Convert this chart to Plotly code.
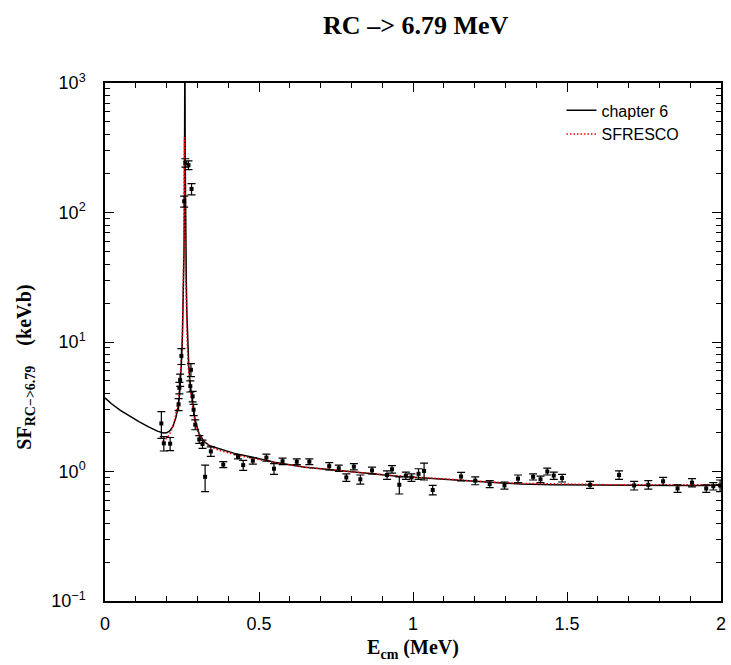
import plotly.graph_objects as go

# ---- data: experimental points ----
exp_E = [0.183, 0.191, 0.2115, 0.239, 0.2415, 0.244, 0.248, 0.257, 0.261, 0.271,
         0.277, 0.279, 0.281, 0.2845, 0.2877, 0.293, 0.306, 0.3166, 0.325, 0.3436,
         0.384, 0.432, 0.4487, 0.48, 0.524, 0.5486, 0.5765, 0.6226, 0.6634, 0.728,
         0.759, 0.7835, 0.808, 0.829, 0.867, 0.9157, 0.9318, 0.9555, 0.977, 0.995,
         1.018, 1.036, 1.064, 1.156, 1.202, 1.249, 1.297, 1.341, 1.39, 1.414,
         1.436, 1.457, 1.484, 1.575, 1.669, 1.718, 1.764, 1.812, 1.859, 1.906,
         1.952, 1.975, 1.997]
exp_S = [2.35, 1.65, 1.64, 3.3, 4.43, 5.1, 7.8, 122, 242, 232,
         4.56, 6.1, 152, 3.8, 3.0, 2.3, 1.77, 1.63, 0.91, 1.43,
         1.13, 1.30, 1.12, 1.21, 1.28, 1.05, 1.20, 1.19, 1.19, 1.10,
         1.06, 0.90, 1.09, 0.87, 1.02, 0.94, 1.04, 0.79, 0.93, 0.90,
         0.96, 1.01, 0.72, 0.915, 0.85, 0.80, 0.78, 0.88, 0.91, 0.87,
         1.00, 0.93, 0.89, 0.79, 0.94, 0.78, 0.79, 0.84, 0.74, 0.82,
         0.74, 0.77, 0.78]
exp_err = [0.55, 0.21, 0.19, 0.35, 0.45, 0.55, 1.1, 12, 18, 18,
           0.45, 0.7, 15, 0.35, 0.3, 0.2, 0.12, 0.12, 0.21, 0.12,
           0.06, 0.05, 0.1, 0.07, 0.08, 0.1, 0.07, 0.06, 0.06, 0.07,
           0.06, 0.06, 0.06, 0.07, 0.06, 0.07, 0.07, 0.12, 0.06, 0.06,
           0.09, 0.15, 0.06, 0.07, 0.06, 0.05, 0.05, 0.06, 0.05, 0.05,
           0.06, 0.06, 0.06, 0.05, 0.07, 0.06, 0.06, 0.06, 0.05, 0.06,
           0.05, 0.05, 0.08]

# ---- data: chapter 6 curve ----
ch6_E = [0.0, 0.02, 0.05, 0.08, 0.11, 0.14, 0.17, 0.19, 0.20, 0.21,
         0.22, 0.23, 0.237, 0.242, 0.246, 0.249, 0.2515, 0.2535, 0.255, 0.2565,
         0.2578, 0.2588, 0.2595, 0.2602, 0.2612, 0.2625, 0.264, 0.266, 0.2685, 0.272,
         0.277, 0.284, 0.292, 0.305, 0.32, 0.34, 0.37, 0.42, 0.48, 0.55,
         0.65, 0.75, 0.85, 0.95, 1.05, 1.15, 1.25, 1.35, 1.45, 1.55,
         1.65, 1.75, 1.85, 1.95, 2.0]
ch6_S = [3.7, 3.35, 2.97, 2.68, 2.43, 2.22, 2.05, 1.98, 1.99, 2.06,
         2.22, 2.6, 3.1, 3.9, 5.2, 7.5, 11.5, 18, 28, 50,
         110, 300, 2500, 300, 110, 50, 28, 16, 10, 6.5,
         4.6, 3.4, 2.55, 1.97, 1.72, 1.58, 1.5, 1.38, 1.29, 1.18,
         1.08, 1.02, 0.97, 0.92, 0.885, 0.855, 0.82, 0.80, 0.79, 0.785,
         0.78, 0.778, 0.778, 0.78, 0.782]

# ---- data: SFRESCO curve ----
sf_E = [0.187, 0.195, 0.205, 0.215, 0.225, 0.232, 0.238, 0.243, 0.247, 0.25,
        0.2525, 0.2545, 0.256, 0.2568, 0.2578, 0.2588, 0.2598, 0.2618, 0.264, 0.2665,
        0.27, 0.275, 0.282, 0.29, 0.302, 0.318, 0.34, 0.37, 0.42, 0.48,
        0.55, 0.65, 0.75, 0.85, 0.95, 1.05, 1.15, 1.25, 1.35, 1.45,
        1.55, 1.65, 1.75, 1.85, 1.95, 2.0]
sf_S = [1.72, 1.76, 1.86, 2.05, 2.42, 2.9, 3.55, 4.6, 6.4, 9.5,
        16, 30, 60, 150, 380, 150, 60, 30, 17, 10.5,
        6.7, 4.7, 3.45, 2.6, 2.0, 1.72, 1.56, 1.46, 1.35, 1.26,
        1.17, 1.08, 1.02, 0.97, 0.925, 0.89, 0.86, 0.83, 0.81, 0.80,
        0.795, 0.79, 0.79, 0.79, 0.79, 0.79]

# ---- tick labels ----
y_tickvals = [0.1, 1, 10, 100, 1000]
y_ticktext = ["10<sup>\u22121</sup>", "10<sup>0</sup>", "10<sup>1</sup>", "10<sup>2</sup>", "10<sup>3</sup>"]
y_minor = [m * d for d in [0.1, 1, 10, 100] for m in range(2, 10)]
x_tickvals = [0, 0.5, 1, 1.5, 2]
x_ticktext = ["0", "0.5", "1", "1.5", "2"]

fig = go.Figure()
fig.add_trace(go.Scatter(
    x=ch6_E, y=ch6_S, mode="lines", name="chapter 6",
    line=dict(color="black", width=1.5),
))
fig.add_trace(go.Scatter(
    x=sf_E, y=sf_S, mode="lines", name="SFRESCO",
    line=dict(color="red", width=1.5, dash="1.5px,2px"),
))
fig.add_trace(go.Scatter(
    x=exp_E, y=exp_S, mode="markers", showlegend=False,
    marker=dict(symbol="square", size=4, color="black"),
    error_y=dict(type="data", array=exp_err, visible=True, color="black",
                 thickness=1.2, width=4),
))

sans = "Liberation Sans, Arial, sans-serif"
serif = "Liberation Serif, Times New Roman, serif"

fig.update_layout(
    width=731, height=665,
    margin=dict(l=105, r=5, t=83, b=64),
    paper_bgcolor="white", plot_bgcolor="white",
    title=dict(text="<b>RC \u2013> 6.79 MeV</b>", x=0.5687, xanchor="center",
               y=0.962, yanchor="middle",
               font=dict(family=serif, size=26, color="black")),
    legend=dict(x=0.741, y=0.98, xanchor="left", yanchor="top",
                bgcolor="rgba(0,0,0,0)", font=dict(family=sans, size=16, color="black"),
                tracegroupgap=0, itemwidth=30),
    showlegend=True,
)

fig.update_xaxes(
    range=[0, 2], tickvals=x_tickvals, ticktext=x_ticktext,
    ticks="inside", ticklen=9, tickwidth=1.3, tickcolor="black",
    minor=dict(ticks="inside", ticklen=5, tickwidth=1.1, dtick=0.1, tickcolor="black", showgrid=False),
    showline=True, linecolor="black", linewidth=1.5, mirror="allticks",
    showgrid=False, zeroline=False,
    tickfont=dict(family=sans, size=18, color="black"),
    ticklabelstandoff=6,
    title=dict(text="<b>E<sub>cm</sub> (MeV)</b>", font=dict(family=serif, size=20, color="black"),
               standoff=7),
)
fig.update_yaxes(
    type="log", range=[-1, 3], tickvals=y_tickvals, ticktext=y_ticktext,
    ticks="inside", ticklen=9, tickwidth=1.3, tickcolor="black",
    minor=dict(ticks="inside", ticklen=5, tickwidth=1.1, tickvals=y_minor, tickcolor="black", showgrid=False),
    showline=True, linecolor="black", linewidth=1.5, mirror="allticks",
    showgrid=False, zeroline=False,
    tickfont=dict(family=sans, size=18, color="black"),
    ticklabelstandoff=14,
    title=dict(text="<b>SF<sub>RC\u2212>6.79</sub>\u00a0\u00a0\u00a0\u00a0(keV.b)\u00a0\u00a0\u00a0\u00a0\u00a0\u00a0\u00a0\u00a0\u00a0\u00a0</b>",
               font=dict(family=serif, size=20, color="black"),
               standoff=14),
)

fig.write_html("out.html")
